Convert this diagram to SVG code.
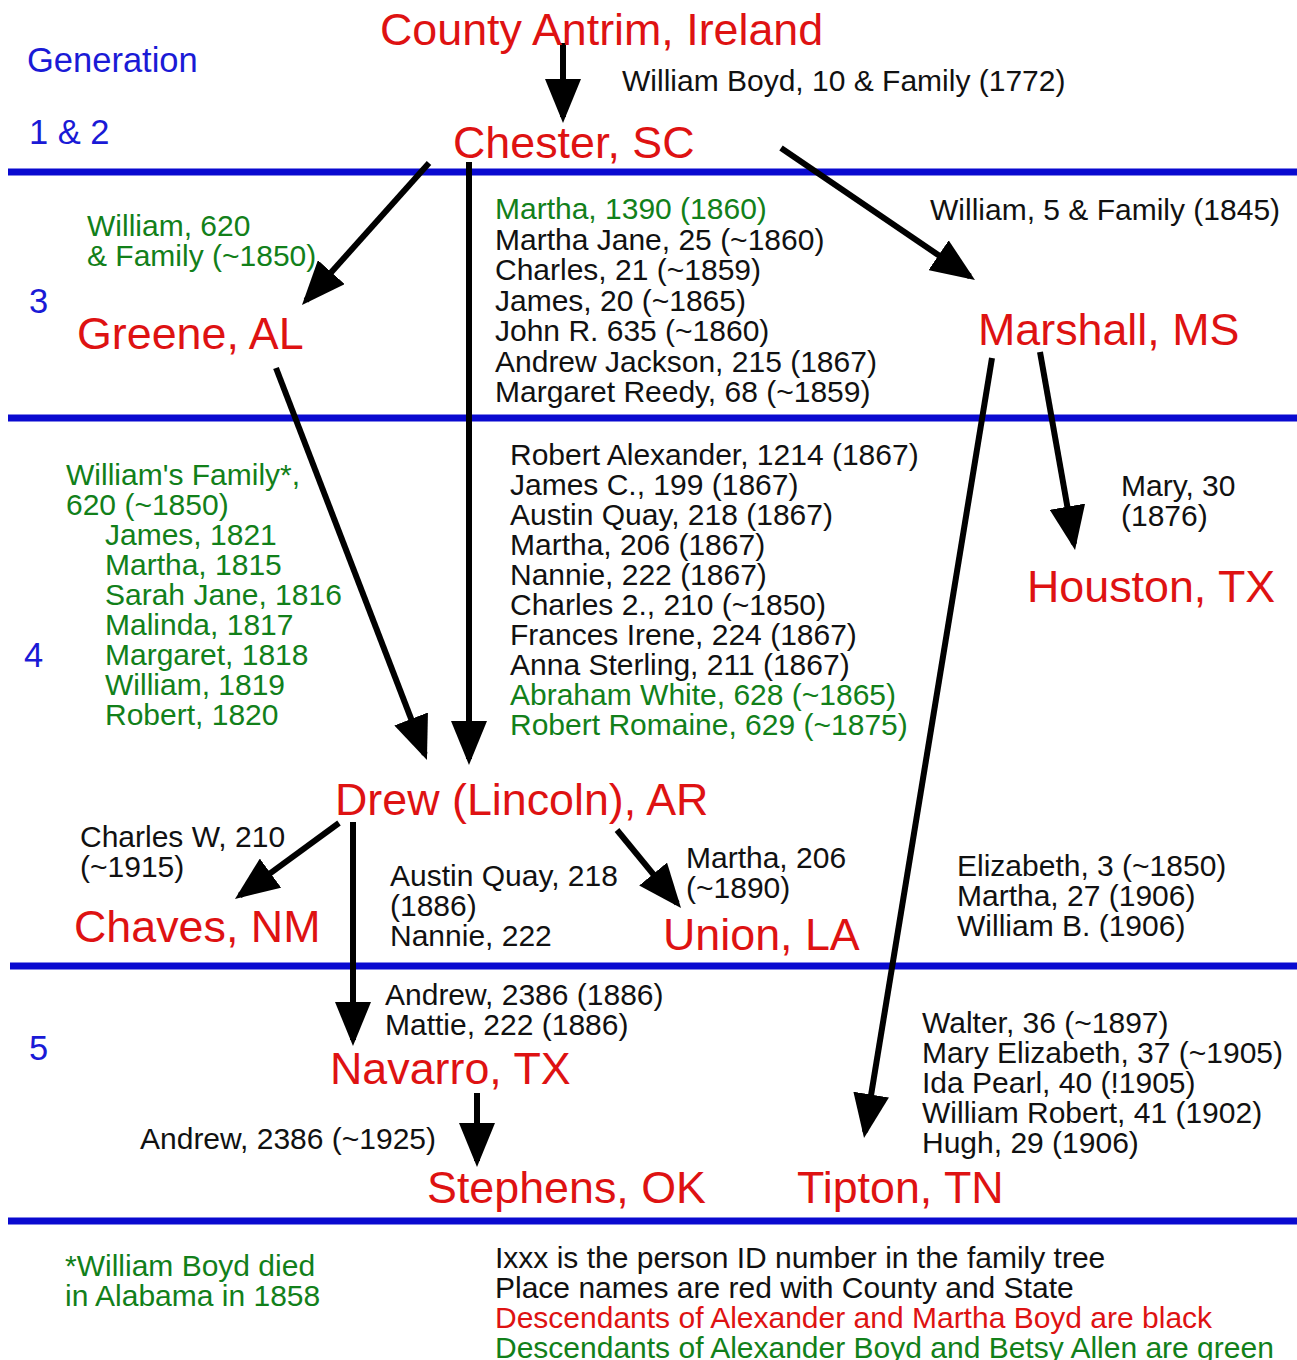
<svg xmlns="http://www.w3.org/2000/svg" width="1297" height="1360" viewBox="0 0 1297 1360">
<style>
text{font-family:"Liberation Sans",Arial,Helvetica,sans-serif}
.place{font-size:44.8px;fill:#de1212}
.gen{font-size:34.5px;fill:#1a1ad6}
.lbl{font-size:30px;fill:#111}
.grn{fill:#12801a}
.red{fill:#de1212}
.band{stroke:#0a0ad0;stroke-width:7}
.arrow{stroke:#000;stroke-width:6;fill:none;marker-end:url(#ah)}
</style>
<defs>
<marker id="ah" markerUnits="userSpaceOnUse" markerWidth="44" markerHeight="36" refX="38" refY="18" orient="auto">
<path d="M0,0 L44,18 L0,36 Z" fill="#000"/>
</marker>
</defs>
<rect width="1297" height="1360" fill="#fff"/>

<g id="generation-bands">
<line class="band" x1="8" y1="172" x2="1297" y2="172"/>
<line class="band" x1="8" y1="418" x2="1297" y2="418"/>
<line class="band" x1="10" y1="966" x2="1297" y2="966"/>
<line class="band" x1="8" y1="1221" x2="1297" y2="1221"/>
</g>

<g id="generation-labels">
<text class="gen" x="27" y="72">Generation</text>
<text class="gen" x="29" y="144">1 &amp; 2</text>
<text class="gen" x="29" y="313">3</text>
<text class="gen" x="24" y="667">4</text>
<text class="gen" x="29" y="1060">5</text>
</g>

<g id="connectors">
<line class="arrow" x1="563" y1="43" x2="563" y2="117"/>
<line class="arrow" x1="429" y1="163" x2="306" y2="300.5"/>
<line class="arrow" x1="469" y1="162" x2="469" y2="759"/>
<line class="arrow" x1="781" y1="148" x2="970" y2="276.6"/>
<line class="arrow" x1="276" y1="368" x2="424.8" y2="754.4"/>
<line class="arrow" x1="1040" y1="352" x2="1074" y2="544.1"/>
<line class="arrow" x1="992" y1="358" x2="865" y2="1132.1"/>
<line class="arrow" x1="339" y1="823" x2="239.8" y2="895.5"/>
<line class="arrow" x1="353" y1="822" x2="353" y2="1040"/>
<line class="arrow" x1="617" y1="830" x2="677.2" y2="903.4"/>
<line class="arrow" x1="477" y1="1093" x2="477" y2="1161"/>
</g>

<g id="node-antrim"><text class="place" x="380" y="45">County Antrim, Ireland</text></g>
<g id="node-chester"><text class="place" x="453" y="158">Chester, SC</text></g>
<g id="node-greene"><text class="place" x="77" y="349">Greene, AL</text></g>
<g id="node-marshall"><text class="place" x="978" y="345">Marshall, MS</text></g>
<g id="node-houston"><text class="place" x="1027" y="602">Houston, TX</text></g>
<g id="node-drew"><text class="place" x="335" y="815">Drew (Lincoln), AR</text></g>
<g id="node-chaves"><text class="place" x="74" y="942">Chaves, NM</text></g>
<g id="node-union"><text class="place" x="663" y="950">Union, LA</text></g>
<g id="node-navarro"><text class="place" x="330" y="1084">Navarro, TX</text></g>
<g id="node-stephens"><text class="place" x="427" y="1203">Stephens, OK</text></g>
<g id="node-tipton"><text class="place" x="797" y="1203">Tipton, TN</text></g>

<g id="label-antrim-chester"><text class="lbl" x="622" y="91">William Boyd, 10 &amp; Family (1772)</text></g>

<g id="label-chester-greene" class="lbl grn">
<text x="87" y="236">William, 620</text>
<text x="87" y="266">&amp; Family (~1850)</text>
</g>

<g id="label-chester-marshall"><text class="lbl" x="930" y="220">William, 5 &amp; Family (1845)</text></g>

<g id="label-chester-drew-gen3" class="lbl">
<text class="grn" x="495" y="219">Martha, 1390 (1860)</text>
<text x="495" y="249.5">Martha Jane, 25 (~1860)</text>
<text x="495" y="280">Charles, 21 (~1859)</text>
<text x="495" y="310.5">James, 20 (~1865)</text>
<text x="495" y="341">John R. 635 (~1860)</text>
<text x="495" y="371.5">Andrew Jackson, 215 (1867)</text>
<text x="495" y="402">Margaret Reedy, 68 (~1859)</text>
</g>

<g id="label-greene-drew" class="lbl grn">
<text x="66" y="485">William's Family*,</text>
<text x="66" y="515">620 (~1850)</text>
<text x="105" y="545">James, 1821</text>
<text x="105" y="575">Martha, 1815</text>
<text x="105" y="605">Sarah Jane, 1816</text>
<text x="105" y="635">Malinda, 1817</text>
<text x="105" y="665">Margaret, 1818</text>
<text x="105" y="695">William, 1819</text>
<text x="105" y="725">Robert, 1820</text>
</g>

<g id="label-chester-drew-gen4" class="lbl">
<text x="510" y="465">Robert Alexander, 1214 (1867)</text>
<text x="510" y="495">James C., 199 (1867)</text>
<text x="510" y="525">Austin Quay, 218 (1867)</text>
<text x="510" y="555">Martha, 206 (1867)</text>
<text x="510" y="585">Nannie, 222 (1867)</text>
<text x="510" y="615">Charles 2., 210 (~1850)</text>
<text x="510" y="645">Frances Irene, 224 (1867)</text>
<text x="510" y="675">Anna Sterling, 211 (1867)</text>
<text class="grn" x="510" y="705">Abraham White, 628 (~1865)</text>
<text class="grn" x="510" y="735">Robert Romaine, 629 (~1875)</text>
</g>

<g id="label-marshall-houston" class="lbl">
<text x="1121" y="496">Mary, 30</text>
<text x="1121" y="526">(1876)</text>
</g>

<g id="label-drew-chaves" class="lbl">
<text x="80" y="847">Charles W, 210</text>
<text x="80" y="877">(~1915)</text>
</g>

<g id="label-drew-navarro-gen4" class="lbl">
<text x="390" y="886">Austin Quay, 218</text>
<text x="390" y="916">(1886)</text>
<text x="390" y="946">Nannie, 222</text>
</g>

<g id="label-drew-union" class="lbl">
<text x="686" y="868">Martha, 206</text>
<text x="686" y="898">(~1890)</text>
</g>

<g id="label-marshall-tipton-gen4" class="lbl">
<text x="957" y="876">Elizabeth, 3 (~1850)</text>
<text x="957" y="906">Martha, 27 (1906)</text>
<text x="957" y="936">William B. (1906)</text>
</g>

<g id="label-drew-navarro" class="lbl">
<text x="385" y="1005">Andrew, 2386 (1886)</text>
<text x="385" y="1035">Mattie, 222 (1886)</text>
</g>

<g id="label-marshall-tipton" class="lbl">
<text x="922" y="1033">Walter, 36 (~1897)</text>
<text x="922" y="1063">Mary Elizabeth, 37 (~1905)</text>
<text x="922" y="1093">Ida Pearl, 40 (!1905)</text>
<text x="922" y="1123">William Robert, 41 (1902)</text>
<text x="922" y="1153">Hugh, 29 (1906)</text>
</g>

<g id="label-navarro-stephens"><text class="lbl" x="140" y="1149">Andrew, 2386 (~1925)</text></g>

<g id="footnote" class="lbl grn">
<text x="65" y="1276">*William Boyd died</text>
<text x="65" y="1306">in Alabama in 1858</text>
</g>

<g id="legend" class="lbl">
<text x="495" y="1268">Ixxx is the person ID number in the family tree</text>
<text x="495" y="1298">Place names are red with County and State</text>
<text class="red" x="495" y="1328">Descendants of Alexander and Martha Boyd are black</text>
<text class="grn" x="495" y="1358">Descendants of Alexander Boyd and Betsy Allen are green</text>
</g>
</svg>
